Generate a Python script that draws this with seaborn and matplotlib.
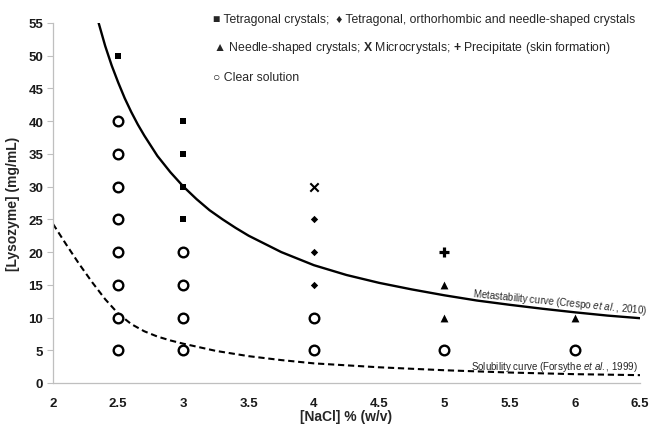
import matplotlib
matplotlib.use("Agg")
import matplotlib.pyplot as plt
import seaborn as sns
import pandas as pd

# ---- data ----
clear_x = [2.5, 2.5, 2.5, 2.5, 2.5, 2.5, 2.5, 2.5, 3, 3, 3, 3, 4, 4, 5, 6]
clear_y = [40, 35, 30, 25, 20, 15, 10, 5, 20, 15, 10, 5, 10, 5, 5, 5]
tetra_x = [2.5, 3, 3, 3, 3]
tetra_y = [50, 40, 35, 30, 25]
mixed_x = [4, 4, 4]
mixed_y = [25, 20, 15]
needle_x = [5, 5, 6]
needle_y = [15, 10, 10]
micro_x = [4]
micro_y = [30]
precip_x = [5]
precip_y = [20]

meta_x = [2.35, 2.40, 2.45, 2.50, 2.55, 2.60, 2.65, 2.70, 2.80, 2.90, 3.00, 3.10, 3.20, 3.30,
          3.40, 3.50, 3.60, 3.75, 4.00, 4.25, 4.50, 4.75, 5.00, 5.25, 5.50, 5.75, 6.00, 6.25, 6.50]
meta_y = [55.0, 51.5, 48.5, 45.9, 43.5, 41.4, 39.5, 37.8, 34.7, 32.2, 30.0, 28.1, 26.4, 25.0,
          23.7, 22.5, 21.5, 20.0, 18.0, 16.5, 15.3, 14.3, 13.4, 12.6, 11.95, 11.35, 10.8, 10.3, 9.9]
sol_x = [2.0, 2.1, 2.2, 2.3, 2.4, 2.5, 2.6, 2.7, 2.8, 2.9, 3.0, 3.25, 3.5, 3.75, 4.0,
         4.5, 5.0, 5.5, 6.0, 6.5]
sol_y = [24.3, 21.2, 18.2, 15.4, 12.8, 10.6, 9.0, 7.9, 7.1, 6.5, 6.0, 4.9, 4.1, 3.5, 3.0,
         2.4, 1.95, 1.6, 1.35, 1.2]

xticks = [2, 2.5, 3, 3.5, 4, 4.5, 5, 5.5, 6, 6.5]
xticklabels = ["2", "2.5", "3", "3.5", "4", "4.5", "5", "5.5", "6", "6.5"]
yticks = [0, 5, 10, 15, 20, 25, 30, 35, 40, 45, 50, 55]
yticklabels = [str(v) for v in yticks]

sns.set_theme(style="white")
plt.rcParams['font.family'] = ['Liberation Sans', 'DejaVu Sans']
plt.rcParams['mathtext.fontset'] = 'custom'
plt.rcParams['mathtext.rm'] = 'Liberation Sans'
plt.rcParams['mathtext.it'] = 'Liberation Sans:italic'
plt.rcParams['mathtext.bf'] = 'Liberation Sans:bold'

fig = plt.figure(figsize=(6.54, 4.27), dpi=100)
ax = fig.add_axes([53/654, 1-384/427, (640-53)/654, (384-24)/427])

meta_df = pd.DataFrame({"x": meta_x, "y": meta_y})
sol_df = pd.DataFrame({"x": sol_x, "y": sol_y})
sns.lineplot(data=meta_df, x="x", y="y", ax=ax, color="black", lw=1.7, sort=False, estimator=None)
sns.lineplot(data=sol_df, x="x", y="y", ax=ax, color="black", lw=1.5, sort=False, estimator=None,
             dashes=False, linestyle=(0, (3, 1.8)))

def pts(xs, ys, **kw):
    sns.scatterplot(x=xs, y=ys, ax=ax, zorder=3, **kw)

pts(clear_x, clear_y, marker='o', s=48, facecolor='white', edgecolor='black', linewidth=1.7)
pts(tetra_x, tetra_y, marker='s', s=20, color='black', edgecolor='black', linewidth=0)
pts(mixed_x, mixed_y, marker='D', s=14, color='black', edgecolor='black', linewidth=0)
pts(needle_x, needle_y, marker='^', s=32, color='black', edgecolor='black', linewidth=0)
pts(micro_x, micro_y, marker='x', s=36, color='black', linewidth=1.5)
pts(precip_x, precip_y, marker='+', s=60, color='black', linewidth=2.3)

ax.set_xlim(2, 6.5)
ax.set_ylim(0, 55)
ax.set_xticks(xticks)
ax.set_xticklabels(xticklabels, fontweight='bold', fontsize=9.5, color='#1a1a1a')
ax.set_yticks(yticks)
ax.set_yticklabels(yticklabels, fontweight='bold', fontsize=9.5, color='#1a1a1a')
ax.tick_params(axis='y', length=4, width=0.8, color='#bfbfbf', pad=3, left=True)
ax.tick_params(axis='x', length=0, pad=10)
for s in ['top', 'right']:
    ax.spines[s].set_visible(False)
for s in ['left', 'bottom']:
    ax.spines[s].set_color('#bfbfbf')
    ax.spines[s].set_linewidth(0.9)
ax.set_xlabel("[NaCl] % (w/v)", fontsize=10, fontweight='bold', labelpad=0)
ax.set_ylabel("[Lysozyme] (mg/mL)", fontsize=10, fontweight='bold', labelpad=6)

ax.text(5.886, 12.4, r"Metastability curve (Crespo $et\ al.$, 2010)", fontsize=7,
        rotation=-5.6, ha='center', va='center', rotation_mode='anchor')
ax.text(5.84, 2.6, r"Solubility curve (Forsythe $et\ al.$, 1999)", fontsize=7,
        ha='center', va='center')

fs = 8.8
fig.text(213/654, 1-20/427, "\u25A0 Tetragonal crystals;  \u2666 Tetragonal, orthorhombic and needle-shaped crystals",
         fontsize=fs, va='center', ha='left')
fig.text(213/654, 1-48.3/427, "\u25B2 Needle-shaped crystals; $\\mathbf{X}$ Microcrystals; $\\mathbf{+}$ Precipitate (skin formation)",
         fontsize=fs, va='center', ha='left')
fig.text(213/654, 1-77.7/427, "\u25CB Clear solution", fontsize=fs, va='center', ha='left')

fig.savefig("out.png", dpi=100)
